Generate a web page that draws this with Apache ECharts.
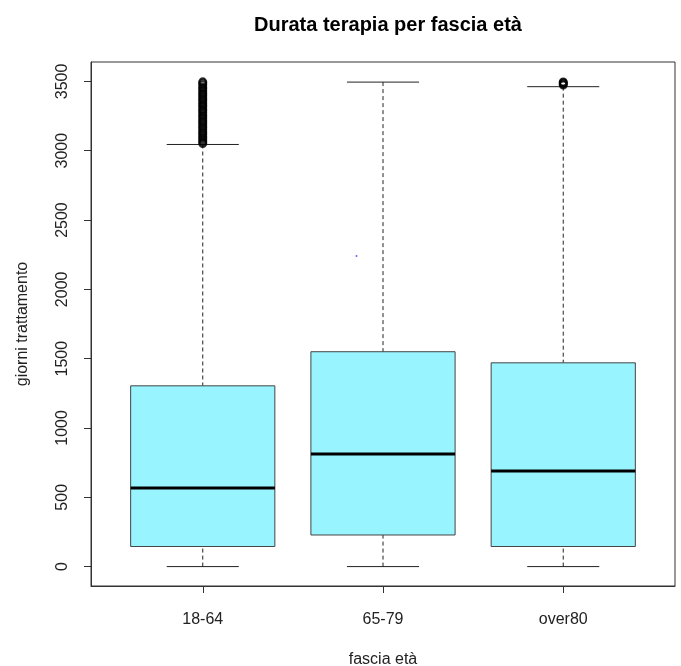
<!DOCTYPE html>
<html>
<head>
<meta charset="utf-8">
<script src="https://cdn.jsdelivr.net/npm/echarts@6/dist/echarts.min.js"></script>
<style>
  html, body { margin: 0; padding: 0; background: #fff; }
  #chart { width: 681px; height: 666px; }
</style>
</head>
<body>
<div id="chart"></div>
<script>
// valori
const categories = ['18-64', '65-79', 'over80'];
const whiskerLow = [0, 0, 0];
const q1 = [145, 228, 145];
const medians = [567, 813, 690];
const q3 = [1304, 1550, 1470];
const whiskerHigh = [3045, 3495, 3462];
const yTicks = [0, 500, 1000, 1500, 2000, 2500, 3000, 3500];

const outliers1864 = [3052, 3062, 3075, 3088, 3101, 3115, 3128, 3140, 3155, 3168,
  3180, 3195, 3208, 3220, 3235, 3248, 3260, 3275, 3288, 3300, 3315, 3328, 3340,
  3355, 3368, 3380, 3395, 3408, 3420, 3435, 3448, 3460, 3475, 3488, 3497];
const outliersOver80 = [3474, 3482, 3490, 3496];
const strayPoint = [[1.853, 2241]];

const chart = echarts.init(document.getElementById('chart'));

const boxData = categories.map((c, i) => [i + 1, whiskerLow[i], q1[i], medians[i], q3[i], whiskerHigh[i]]);
const outlierData = [];
outliers1864.forEach(v => outlierData.push([1, v]));
outliersOver80.forEach(v => outlierData.push([3, v]));

function renderBox(params, api) {
  const x = api.value(0);
  const lo = api.coord([x, api.value(1)]);
  const b1 = api.coord([x - 0.4, api.value(2)]);
  const b2 = api.coord([x + 0.4, api.value(4)]);
  const med = api.value(3);
  const hi = api.coord([x, api.value(5)]);
  const capL = api.coord([x - 0.2, 0])[0];
  const capR = api.coord([x + 0.2, 0])[0];
  const m1 = api.coord([x - 0.4, med]);
  const m2 = api.coord([x + 0.4, med]);
  const dash = { stroke: '#222', lineWidth: 1, lineDash: [4, 3] };
  const solid = { stroke: '#222', lineWidth: 1 };
  return {
    type: 'group',
    children: [
      { type: 'line', shape: { x1: lo[0], y1: lo[1], x2: lo[0], y2: b1[1] }, style: dash },
      { type: 'line', shape: { x1: hi[0], y1: hi[1], x2: hi[0], y2: b2[1] }, style: dash },
      { type: 'line', shape: { x1: capL, y1: lo[1], x2: capR, y2: lo[1] }, style: solid },
      { type: 'line', shape: { x1: capL, y1: hi[1], x2: capR, y2: hi[1] }, style: solid },
      {
        type: 'rect',
        shape: { x: b1[0], y: b2[1], width: b2[0] - b1[0], height: b1[1] - b2[1] },
        style: { fill: '#98F5FF', stroke: '#444', lineWidth: 1 }
      },
      { type: 'line', shape: { x1: m1[0], y1: m1[1], x2: m2[0], y2: m2[1] }, style: { stroke: '#000', lineWidth: 3 } }
    ]
  };
}

const option = {
  animation: false,
  backgroundColor: '#fff',
  textStyle: { fontFamily: 'Liberation Sans, Arial, sans-serif' },
  title: {
    text: 'Durata terapia per fascia età',
    left: 383,
    top: 10,
    textAlign: 'center',
    textStyle: { fontSize: 20, fontWeight: 'bold', color: '#000', fontFamily: 'Liberation Sans, Arial, sans-serif' }
  },
  grid: {
    left: 91, right: 6, top: 62, bottom: 80,
    outerBoundsMode: 'none',
    containLabel: false,
    show: true, borderColor: '#333', borderWidth: 1, backgroundColor: 'transparent'
  },
  xAxis: {
    type: 'value',
    min: 0.38,
    max: 3.62,
    name: 'fascia età',
    nameLocation: 'middle',
    nameGap: 66,
    nameTextStyle: { fontSize: 16, color: '#222' },
    axisLine: { show: true, onZero: false, lineStyle: { color: '#333' } },
    splitLine: { show: false },
    axisTick: { show: true, length: 7, customValues: [1, 2, 3], lineStyle: { color: '#333' } },
    axisLabel: {
      customValues: [1, 2, 3],
      margin: 26,
      fontSize: 16,
      color: '#222',
      formatter: v => categories[Math.round(v) - 1] || ''
    }
  },
  yAxis: {
    type: 'value',
    min: -140,
    max: 3640,
    name: 'giorni trattamento',
    nameLocation: 'middle',
    nameRotate: 90,
    nameGap: 60,
    nameTextStyle: { fontSize: 16, color: '#222' },
    axisLine: { show: true, onZero: false, lineStyle: { color: '#333' } },
    splitLine: { show: false },
    axisTick: { show: true, length: 7, customValues: yTicks, lineStyle: { color: '#333' } },
    axisLabel: {
      customValues: yTicks,
      rotate: 90,
      margin: 20,
      fontSize: 16,
      color: '#222',
      formatter: v => String(v)
    }
  },
  series: [
    {
      type: 'custom',
      renderItem: renderBox,
      data: boxData,
      encode: { x: 0, y: [1, 2, 3, 4, 5] },
      z: 2
    },
    {
      type: 'scatter',
      data: outlierData,
      symbol: 'circle',
      symbolSize: 7,
      itemStyle: { color: 'transparent', borderColor: '#000', borderWidth: 2 },
      z: 3
    },
    {
      type: 'scatter',
      data: strayPoint,
      symbol: 'circle',
      symbolSize: 2,
      itemStyle: { color: '#3344ff' },
      z: 3
    }
  ]
};

chart.setOption(option);
</script>
</body>
</html>
